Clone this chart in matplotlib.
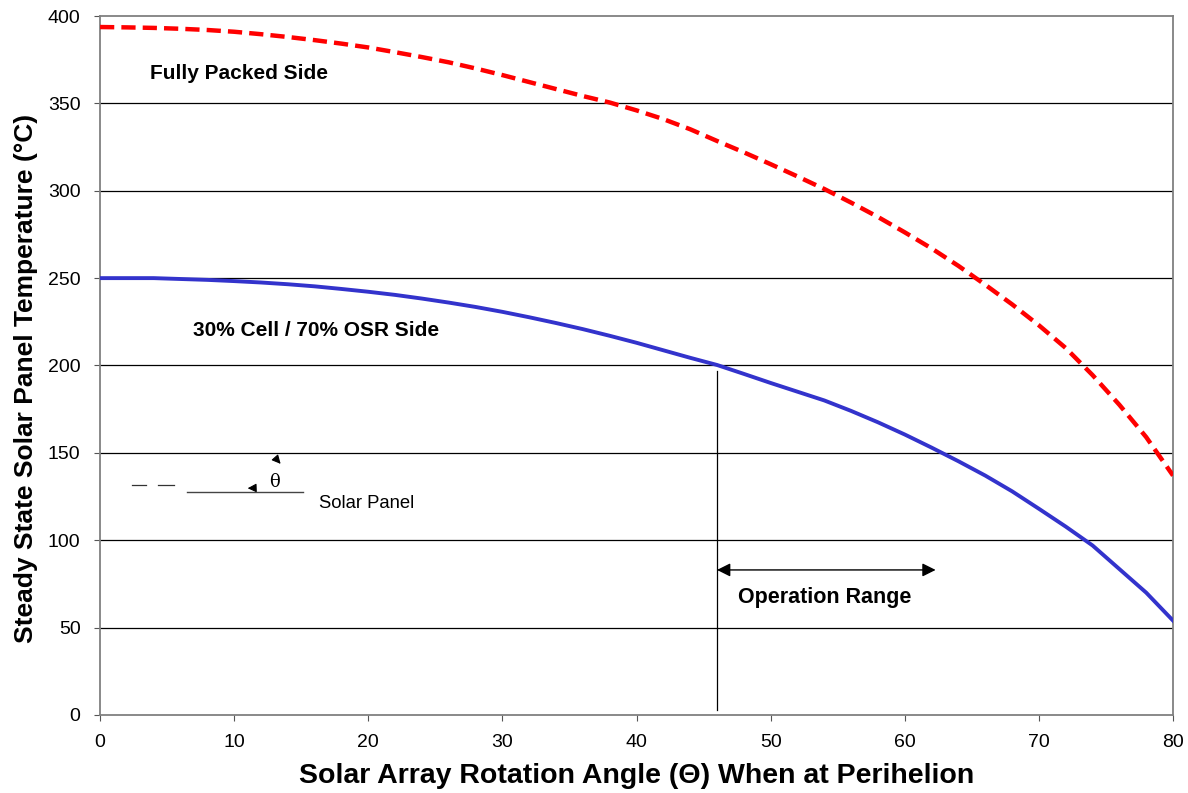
import matplotlib.pyplot as plt

plt.rcParams['font.family'] = ['Liberation Sans', 'DejaVu Sans']

# Data
angles = list(range(0, 82, 2))
fully_packed = [393.7, 393.5, 393.2, 392.7, 392.0, 391.0, 389.6, 388.0, 386.2, 384.2,
                382.0, 379.3, 376.5, 373.5, 370.0, 366.2, 362.2, 358.2, 354.2, 350.5,
                346.0, 341.0, 335.2, 328.5, 322.0, 315.2, 308.2, 301.0, 293.2, 285.0,
                276.2, 267.0, 257.0, 246.2, 235.0, 223.0, 210.0, 194.5, 177.5, 159.0,
                137.0]
cell_osr = [250.0, 250.0, 250.0, 249.5, 249.0, 248.3, 247.5, 246.5, 245.3, 243.8,
            242.2, 240.4, 238.3, 236.0, 233.5, 230.7, 227.6, 224.3, 220.8, 217.0,
            213.0, 208.7, 204.4, 200.3, 195.2, 190.0, 185.0, 180.0, 174.0, 167.5,
            160.5, 153.0, 145.2, 137.0, 128.0, 118.0, 107.8, 97.0, 83.5, 70.0,
            54.0]
op_range = (46, 62.3)
x_ticks = list(range(0, 90, 10))
y_ticks = list(range(0, 450, 50))

fig = plt.figure(figsize=(11.88, 7.93), dpi=100)
ax = fig.add_axes([0.0842, 0.0984, 0.9032, 0.8814])

ax.set_xlim(0, 80)
ax.set_ylim(0, 400)
ax.set_xticks(x_ticks)
ax.set_yticks(y_ticks)
ax.tick_params(labelsize=14, direction='out', length=4, color='#555555', pad=10)
for s in ax.spines.values():
    s.set_color('#808080')
    s.set_linewidth(1.3)

# horizontal grid
for yv in y_ticks[1:-1]:
    ax.axhline(yv, color='black', lw=0.9, zorder=1)

ax.plot(angles, fully_packed, color='#ff0000', lw=3.2, dashes=(3.2, 1.6), zorder=3)
ax.plot(angles, cell_osr, color='#3333cc', lw=2.8, zorder=3)

ax.text(3.7, 367, 'Fully Packed Side', fontsize=15, fontweight='bold', va='center')
ax.text(6.9, 220, '30% Cell / 70% OSR Side', fontsize=15, fontweight='bold', va='center')

# operation range marker
ax.plot([op_range[0], op_range[0]], [3, 197], color='black', lw=0.9, zorder=2)
ax.annotate('', xy=(op_range[1], 83), xytext=(op_range[0], 83),
            arrowprops=dict(arrowstyle='<|-|>', color='black', lw=1.0,
                            mutation_scale=20, shrinkA=0, shrinkB=0))
ax.text(54.0, 67, 'Operation Range', fontsize=15.5, fontweight='bold',
        ha='center', va='center')

# small solar panel sketch
ax.plot([2.35, 3.45], [131.5, 131.5], color='#333333', lw=0.9)
ax.plot([4.3, 5.5], [131.5, 131.5], color='#333333', lw=0.9)
ax.plot([6.5, 15.1], [127.6, 127.6], color='#444444', lw=1.0)
ax.annotate('', xy=(10.8, 129.7), xytext=(11.6, 129.9),
            arrowprops=dict(arrowstyle='-|>', color='black', lw=0.8, mutation_scale=13))
ax.annotate('', xy=(13.6, 142.5), xytext=(13.2, 146.0),
            arrowprops=dict(arrowstyle='-|>', color='black', lw=0.8, mutation_scale=13))
ax.text(13.0, 133.5, 'θ', fontsize=13, ha='center', va='center', family='DejaVu Serif')
ax.text(16.3, 121, 'Solar Panel', fontsize=13.3, va='center')

ax.set_xlabel('Solar Array Rotation Angle (Θ) When at Perihelion',
              fontsize=20.5, fontweight='bold', labelpad=8)
ax.set_ylabel('Steady State Solar Panel Temperature (°C)',
              fontsize=19, fontweight='bold')
ax.yaxis.set_label_coords(-0.058, 0.481)

fig.savefig('out.png', dpi=100)
